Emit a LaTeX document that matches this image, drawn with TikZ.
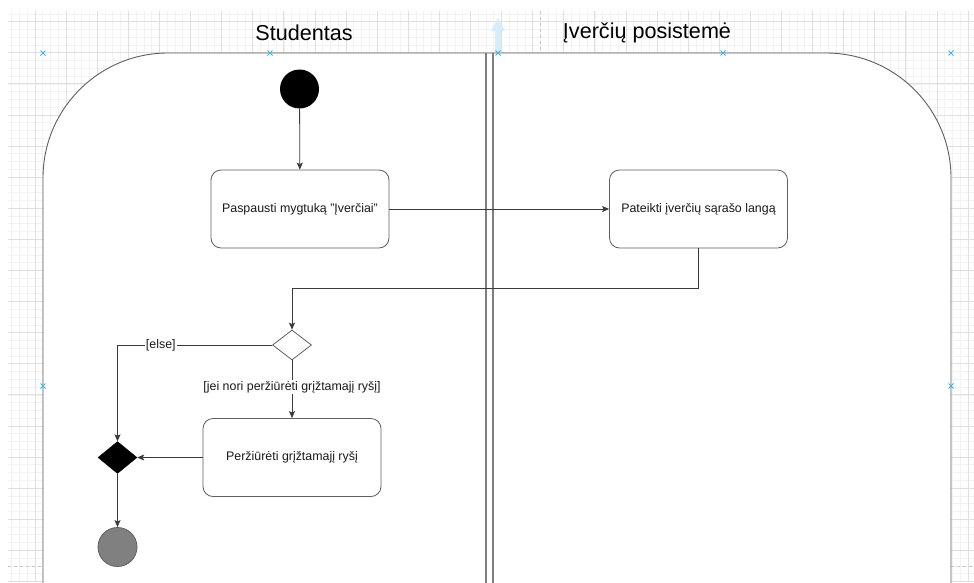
\documentclass[tikz,border=0pt]{standalone}
\usepackage{fontspec}
\setmainfont{Liberation Sans}
\usetikzlibrary{arrows.meta,positioning,shapes.geometric}

\definecolor{edgegray}{HTML}{5E5E5E}
\definecolor{linegray}{HTML}{3A3A3A}
\definecolor{handleblue}{HTML}{3DB4EE}
\definecolor{handlefill}{HTML}{D6EEFA}
\definecolor{gridmajor}{HTML}{E0E0E0}
\definecolor{gridminor}{HTML}{F2F2F2}

\begin{document}
\begin{tikzpicture}[
  x=1pt, y=-1pt,
  font=\fontsize{12.4}{14}\selectfont,
  action/.style={draw=edgegray, line width=0.8pt, rounded corners=10pt, fill=white,
    minimum width=178pt, minimum height=78pt, inner sep=3pt, text=black!90},
  decision/.style={diamond, draw=edgegray, line width=0.8pt, fill=white,
    minimum width=39pt, minimum height=30pt, inner sep=0pt},
  mergenode/.style={diamond, draw=black, fill=black,
    minimum width=39pt, minimum height=32pt, inner sep=0pt},
  initial/.style={circle, fill=black, minimum size=39pt, inner sep=0pt},
  final/.style={circle, draw=edgegray, line width=0.8pt, fill=gray, minimum size=39pt, inner sep=0pt},
  flow/.style={-{Stealth[length=7pt,width=6pt,inset=1.5pt]}, draw=linegray, line width=0.8pt},
  guard/.style={fill=white, inner sep=1pt, text=black!90},
  title/.style={font=\fontsize{21.6}{24}\selectfont},
  handle/.style={draw=handleblue, line width=1pt},
  pagebreak/.style={draw=gray!45, dashed, line width=0.8pt}
]

% Canvas and grid
\clip (0,0) rectangle (974,582);
\fill[white] (0,0) rectangle (974,582);
\begin{scope}
  \clip (8,11) rectangle (974,582);
  \foreach \i in {0,...,125} {
    \draw[gridminor, line width=0.6pt] ({3.9+7.775*\i},11) -- ({3.9+7.775*\i},582);
  }
  \foreach \j in {0,...,76} {
    \draw[gridminor, line width=0.6pt] (8,{6.05+7.775*\j}) -- (974,{6.05+7.775*\j});
  }
  \foreach \i in {0,...,31} {
    \draw[gridmajor, line width=0.7pt] ({3.9+31.1*\i},11) -- ({3.9+31.1*\i},582);
  }
  \foreach \j in {0,...,19} {
    \draw[gridmajor, line width=0.7pt] (8,{21.6+31.1*\j}) -- (974,{21.6+31.1*\j});
  }
\end{scope}
\draw[pagebreak] (540,11) -- (540,53);
\draw[pagebreak] (8,566) -- (43,566);
\draw[pagebreak] (951,566) -- (974,566);

% Swimlanes
\filldraw[fill=white, draw=edgegray, line width=0.9pt, rounded corners=125pt]
  (43,640) -- (43,53) -- (951,53) -- (951,640);
\draw[edgegray!80, line width=1.2pt] (486,53) -- (486,600);
\draw[edgegray!80, line width=1.2pt] (493,53) -- (493,600);
\node[title] (laneA) at (304,33) {Studentas};
\node[title] (laneB) at (647,33) {Įverčių posistemė};

% Editor handles
\fill[handlefill] (495,52) -- (495,31) -- (491,31) -- (498,18) -- (505,31) -- (501,31) -- (501,52) -- cycle;
\foreach \hx/\hy in {43/53, 270/53, 498/53, 723/53, 951/53, 43/386, 951/386} {
  \draw[handle] (\hx-2.5,\hy-2.5) -- (\hx+2.5,\hy+2.5);
  \draw[handle] (\hx-2.5,\hy+2.5) -- (\hx+2.5,\hy-2.5);
}

% Activity nodes
\node[initial] (start) at (299.5,89) {};
\node[action] (press) at (300,209) {Paspausti mygtuką "Įverčiai"};
\node[action] (show) at (698.5,209) {Pateikti įverčių sąrašo langą};
\node[decision] (choice) at (292,345) {};
\node[action] (review) at (292,457.5) {Peržiūrėti grįžtamajį ryšį};
\node[mergenode] (join) at (117.5,457.5) {};
\node[final] (stop) at (117.5,547) {};

% Control flow
\draw[flow] (start) -- (press);
\draw[flow] (press) -- (show);
\draw[flow] (show.south) -- ++(0,40) -| (choice.north);
\draw[flow] (choice.west) -| (join.north) node[guard, pos=0.36] {[else]};
\draw[flow] (choice.south) -- (review.north) node[guard, midway, yshift=2pt] {[jei nori peržiūrėti grįžtamajį ryšį]};
\draw[flow] (review.west) -- (join.east);
\draw[flow] (join) -- (stop);

\end{tikzpicture}
\end{document}
